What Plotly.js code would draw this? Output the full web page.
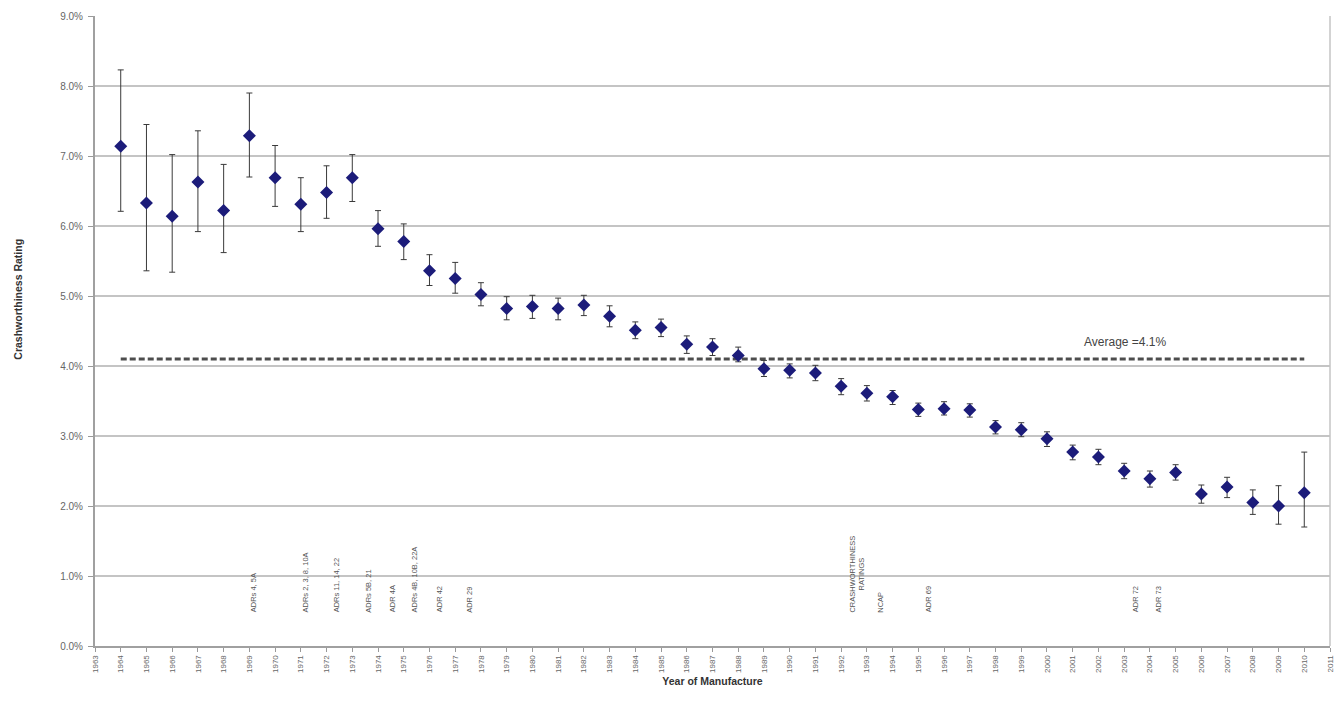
<!DOCTYPE html>
<html>
<head>
<meta charset="utf-8">
<script src="https://cdn.plot.ly/plotly-3.0.1.min.js"></script>
<style>
html,body{margin:0;padding:0;background:#fff;}
#chart{width:1335px;height:713px;}
</style>
</head>
<body>
<div id="chart"></div>
<script>
// ---- data ----
const years = [1964,1965,1966,1967,1968,1969,1970,1971,1972,1973,1974,1975,1976,1977,1978,1979,1980,1981,1982,1983,1984,1985,1986,1987,1988,1989,1990,1991,1992,1993,1994,1995,1996,1997,1998,1999,2000,2001,2002,2003,2004,2005,2006,2007,2008,2009,2010];
const rating = [7.14,6.33,6.14,6.63,6.22,7.29,6.69,6.31,6.48,6.69,5.96,5.78,5.36,5.25,5.02,4.82,4.85,4.82,4.87,4.71,4.51,4.55,4.31,4.27,4.15,3.96,3.94,3.90,3.71,3.61,3.56,3.38,3.39,3.37,3.13,3.09,2.96,2.77,2.70,2.50,2.39,2.48,2.17,2.27,2.05,2.00,2.19];
const upper  = [8.23,7.45,7.02,7.36,6.88,7.90,7.15,6.69,6.86,7.02,6.22,6.03,5.59,5.48,5.19,4.99,5.01,4.97,5.01,4.86,4.63,4.67,4.43,4.39,4.27,4.08,4.03,4.01,3.82,3.72,3.65,3.47,3.49,3.46,3.22,3.19,3.06,2.87,2.81,2.61,2.50,2.59,2.30,2.41,2.23,2.29,2.77];
const lower  = [6.21,5.36,5.34,5.92,5.62,6.70,6.28,5.92,6.11,6.35,5.71,5.52,5.15,5.04,4.86,4.66,4.68,4.66,4.72,4.56,4.39,4.42,4.18,4.15,4.06,3.85,3.83,3.79,3.59,3.50,3.45,3.28,3.30,3.27,3.03,2.99,2.85,2.66,2.59,2.39,2.27,2.37,2.04,2.12,1.88,1.74,1.70];
const averageValue = 4.1;
const averageSpan = [1964, 2010];
const averageLabel = "Average =4.1%";
const eventLabels = ["ADRs 4, 5A","ADRs 2, 3, 8, 10A","ADRs 11, 14, 22","ADRs 5B, 21","ADR 4A","ADRs 4B, 10B, 22A","ADR 42","ADR 29","CRASHWORTHINESS<br>RATINGS","NCAP","ADR 69","ADR 72","ADR 73"];
const eventYears  = [1969.15,1971.2,1972.4,1973.6,1974.55,1975.4,1976.4,1977.55,1992.6,1993.5,1995.4,2003.45,2004.35];
const yTicks = [0,1,2,3,4,5,6,7,8,9];
const xTicks = [];
for (let y = 1963; y <= 2011; y++) xTicks.push(y);

// ---- chart ----
const FONT = 'Liberation Sans, Arial, sans-serif';
const errPlus = upper.map((u,i)=>u - rating[i]);
const errMinus = rating.map((r,i)=>r - lower[i]);

const traces = [
  {
    x: averageSpan, y: [averageValue, averageValue],
    type: 'scatter', mode: 'lines',
    line: {color: '#4d4d4d', width: 3, dash: '6px,3px'},
    hoverinfo: 'skip', showlegend: false
  },
  {
    x: years, y: rating,
    type: 'scatter', mode: 'markers',
    marker: {symbol: 'diamond', size: 10, color: '#1c1c7a'},
    error_y: {type: 'data', symmetric: false, array: errPlus, arrayminus: errMinus,
              color: '#3a3a3a', thickness: 1, width: 3},
    showlegend: false
  }
];

const annotations = eventLabels.map((t,i)=>({
  x: eventYears[i], y: 0.45, xref: 'x', yref: 'y',
  text: t, showarrow: false, textangle: -90,
  xanchor: 'center', yanchor: 'bottom',
  font: {family: FONT, size: 7.5, color: '#555555'}
}));
annotations.push({
  x: 2001.35, y: averageValue, xref: 'x', yref: 'y', yshift: 17,
  text: averageLabel, showarrow: false, xanchor: 'left', yanchor: 'middle',
  font: {family: FONT, size: 12, color: '#444444'}
});
annotations.push({
  x: -0.063, y: 0.55, xref: 'paper', yref: 'paper', showarrow: false,
  xanchor: 'center', yanchor: 'middle',
  text: '<b>Crashworthiness Rating</b>', textangle: -90,
  font: {family: FONT, size: 10.5, color: '#333333'}
});

const layout = {
  width: 1335, height: 713,
  margin: {l: 95, r: 5, t: 16, b: 67},
  paper_bgcolor: '#ffffff', plot_bgcolor: '#ffffff',
  showlegend: false,
  xaxis: {
    range: [1963, 2011], tickvals: xTicks, ticktext: xTicks.map(String),
    tickangle: -90, ticks: 'outside', ticklen: 4, tickcolor: '#999999',
    showgrid: false, zeroline: false,
    showline: true, linecolor: '#a0a0a0', linewidth: 2, mirror: false,
    tickfont: {family: FONT, size: 8, color: '#666666'},
    title: {text: '<b>Year of Manufacture</b>', standoff: 6,
            font: {family: FONT, size: 10.5, color: '#333333'}}
  },
  yaxis: {
    range: [0, 9], tickvals: yTicks, ticktext: yTicks.map(v=>v.toFixed(1)+'%'),
    ticks: 'outside', ticklen: 5, tickcolor: '#999999', ticklabelstandoff: 3,
    showgrid: true, gridcolor: '#c4c4c4', gridwidth: 1.5,
    zeroline: false, showline: true, linecolor: '#a0a0a0', linewidth: 2,
    tickfont: {family: FONT, size: 10, color: '#666666'}
  },
  shapes: [
    {type: 'line', xref: 'paper', yref: 'paper', x0: 1, x1: 1, y0: 0, y1: 1,
     line: {color: '#c4c4c4', width: 1.5}}
  ],
  annotations: annotations
};

Plotly.newPlot('chart', traces, layout, {displayModeBar: false, staticPlot: true});
</script>
</body>
</html>
